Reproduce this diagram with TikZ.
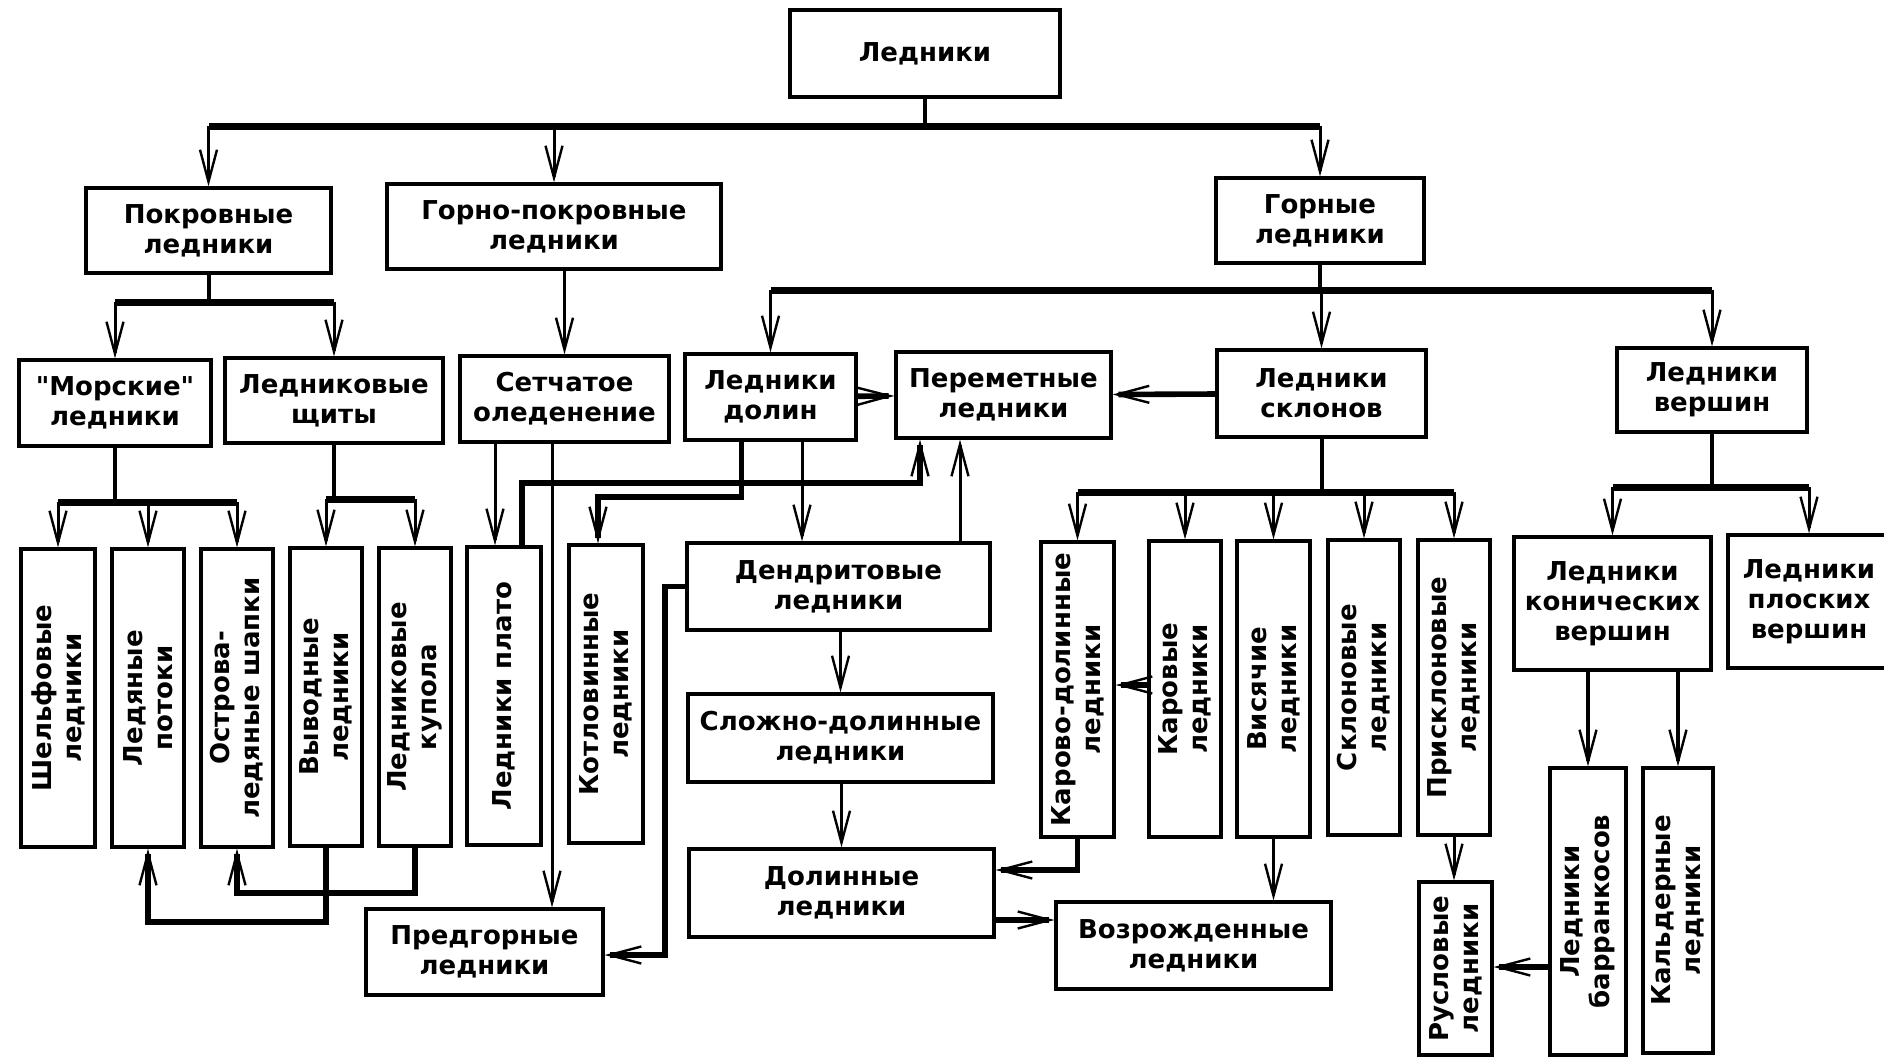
\documentclass[tikz,border=0pt]{standalone}
\usepackage{fontspec}
\setmainfont{DejaVu Sans}
\newfontfamily\quotefont{DejaVu Sans}
\newcommand{\sq}{{\quotefont"}}
\usetikzlibrary{arrows.meta}

\tikzset{
  box/.style={draw, line width=1.6pt, align=center, inner sep=2pt,
    font=\bfseries\fontsize{13}{15}\selectfont},
  sz/.style 2 args={minimum width=#1*0.5pt, minimum height=#2*0.5pt},
  vbox/.style 2 args={box, rotate=90, minimum width=#2*0.5pt, minimum height=#1*0.5pt},
  link/.style={line width=2pt},
  bus/.style={line width=3.5pt},
  arr/.style={line width=1.5pt, -{Straight Barb[length=16pt,width=8.5pt,line width=1.2pt]}},
  thickarr/.style={arr, line width=2.8pt},
}

\begin{document}
\begin{tikzpicture}[x=0.5pt,y=-0.5pt]
  \useasboundingbox (0,0) rectangle (1884,1057);

  % upper levels
  \node[box, sz={270}{87}] (led) at (925,53.5) {Ледники};
  \node[box, sz={245}{85}] (pokr) at (208.5,230.5) {Покровные\\ледники};
  \node[box, sz={334}{85}] (gpokr) at (554,226.5) {Горно-покровные\\ледники};
  \node[box, sz={208}{85}] (gorn) at (1320,220.5) {Горные\\ледники};
  \node[box, sz={192}{86}] (morsk) at (115,403) {\sq Морские\sq\\ледники};
  \node[box, sz={218}{85}] (shchit) at (334,400.5) {Ледниковые\\щиты};
  \node[box, sz={209}{86}] (setch) at (564.5,399) {Сетчатое\\оледенение};
  \node[box, sz={171}{86}] (dolin) at (770.5,397) {Ледники\\долин};
  \node[box, sz={215}{86}] (perem) at (1003.5,395) {Переметные\\ледники};
  \node[box, sz={209}{87}] (sklon) at (1321.5,393.5) {Ледники\\склонов};
  \node[box, sz={190}{84}] (versh) at (1712,390) {Ледники\\вершин};

  % lower levels
  \node[vbox={74}{298}] (shelf) at (58,698) {Шельфовые\\ледники};
  \node[vbox={72}{298}] (potok) at (148,698) {Ледяные\\потоки};
  \node[vbox={72}{298}] (ostrov) at (237,698) {Острова-\\ледяные шапки};
  \node[vbox={72}{298}] (vyvod) at (326,697) {Выводные\\ледники};
  \node[vbox={72}{298}] (kupol) at (415,697) {Ледниковые\\купола};
  \node[vbox={74}{298}] (plato) at (504,696) {Ледники плато};
  \node[vbox={74}{298}] (kotlov) at (606,694) {Котловинные\\ледники};
  \node[box, sz={303}{87}] (dendr) at (838.5,586.5) {Дендритовые\\ледники};
  \node[box, sz={305}{88}] (slozh) at (840.5,738) {Сложно-долинные\\ледники};
  \node[box, sz={305}{88}] (dolinn) at (841.5,893) {Долинные\\ледники};
  \node[box, sz={237}{86}] (predg) at (484.5,952) {Предгорные\\ледники};
  \node[box, sz={275}{87}] (vozr) at (1193.5,945.5) {Возрожденные\\ледники};
  \node[vbox={73}{295}] (karodol) at (1077.5,689.5) {Карово-долинные\\ледники};
  \node[vbox={72}{296}] (karov) at (1185,689) {Каровые\\ледники};
  \node[vbox={73}{296}] (visyach) at (1273.5,689) {Висячие\\ледники};
  \node[vbox={72}{295}] (sklonov) at (1364,687.5) {Склоновые\\ледники};
  \node[vbox={72}{295}] (prisk) at (1454,687.5) {Присклоновые\\ледники};
  \node[vbox={73}{173}] (rusl) at (1455.5,968.5) {Русловые\\ледники};
  \node[vbox={76}{287}] (barr) at (1588,911.5) {Ледники\\барранкосов};
  \node[vbox={70}{285}] (kald) at (1678,910.5) {Кальдерные\\ледники};
  \node[box, sz={197}{133}] (konich) at (1612.5,603.5) {Ледники\\конических\\вершин};
  \node[box, sz={162}{133}] (plosk) at (1809,601.5) {Ледники\\плоских\\вершин};

  % branch points
  \coordinate (b0) at (925,126);
  \coordinate (b1) at (213,302);
  \coordinate (b2) at (1327,290);
  \coordinate (b3) at (120,502);
  \coordinate (b4) at (339,499);
  \coordinate (b5) at (1320,492);
  \coordinate (b6) at (1713,487);

  \draw[link] (led.south) -- (b0);
  \draw[bus] (pokr |- b0) -- (gorn |- b0);
  \foreach \n in {pokr,gpokr,gorn} \draw[arr] (\n |- b0) -- (\n);

  \draw[link] (pokr.south) -- (pokr.south |- b1);
  \draw[bus] (morsk |- b1) -- (shchit |- b1);
  \foreach \n in {morsk,shchit} \draw[arr] (\n |- b1) -- (\n);

  \draw[arr] (gpokr.south -| setch) -- (setch);

  \draw[link] (gorn.south) -- (gorn.south |- b2);
  \draw[bus] (dolin |- b2) -- (versh |- b2);
  \foreach \n in {dolin,sklon,versh} \draw[arr] (\n |- b2) -- (\n);

  \draw[link] (morsk.south) -- (morsk.south |- b3);
  \draw[bus] (shelf |- b3) -- (ostrov |- b3);
  \foreach \n in {shelf,potok,ostrov} \draw[arr] (\n |- b3) -- (\n);

  \draw[link] (shchit.south) -- (shchit.south |- b4);
  \draw[bus] (vyvod |- b4) -- (kupol |- b4);
  \foreach \n in {vyvod,kupol} \draw[arr] (\n |- b4) -- (\n);

  \draw[link] (sklon.south) -- (sklon.south |- b5);
  \draw[bus] (karodol |- b5) -- (prisk |- b5);
  \foreach \n in {karodol,karov,visyach,sklonov,prisk} \draw[arr] (\n |- b5) -- (\n);

  \draw[link] (versh.south) -- (versh.south |- b6);
  \draw[bus] (konich |- b6) -- (plosk |- b6);
  \foreach \n in {konich,plosk} \draw[arr] (\n |- b6) -- (\n);

  % cross links
  \coordinate (s1) at (495,0);
  \coordinate (s2) at (552,0);
  \draw[arr] (setch.south -| s1) -- (plato.east -| s1);
  \draw[arr] (setch.south -| s2) -- (predg.north -| s2);

  \coordinate (p1) at (522,483);
  \coordinate (p2) at (920,483);
  \draw[thickarr] (plato.east -| p1) |- (p2) -- (perem.south -| p2);

  \coordinate (d1) at (741.5,497);
  \coordinate (d2) at (598,497);
  \draw[thickarr] (dolin.south -| d1) |- (d2) -- (kotlov.east -| d2);
  \coordinate (d3) at (802,0);
  \draw[arr] (dolin.south -| d3) -- (dendr.north -| d3);
  \draw[thickarr] (dolin) -- (perem);
  \draw[thickarr] (sklon) -- (perem);
  \coordinate (d4) at (960,0);
  \draw[arr] (dendr.north -| d4) -- (perem.south -| d4);
  \draw[arr] (dendr.south -| slozh) -- (slozh);
  \coordinate (d5) at (665,955);
  \draw[thickarr] (dendr.west) -| (d5) -- (predg.east |- d5);
  \draw[arr] (slozh.south -| dolinn) -- (dolinn);

  \coordinate (k1) at (1078,870);
  \draw[thickarr] (karodol.west) |- (dolinn.east |- k1);
  \coordinate (k2) at (0,920);
  \draw[thickarr] (dolinn.east |- k2) -- (vozr.west |- k2);
  \draw[arr] (visyach.west) -- (vozr.north -| visyach.west);
  \coordinate (k3) at (0,685);
  \draw[thickarr] (karov.north |- k3) -- (karodol.south |- k3);

  \draw[arr, line width=2.2pt] (konich.south -| barr) -- (barr.east);
  \draw[arr, line width=2.2pt] (konich.south -| kald) -- (kald.east);
  \draw[arr] (prisk.west) -- (rusl.east -| prisk.west);
  \coordinate (r1) at (0,967);
  \draw[thickarr] (barr.north |- r1) -- (rusl.south |- r1);

  \coordinate (v1) at (0,922);
  \draw[thickarr] (vyvod.west) |- (potok.west |- v1) -- (potok.west);
  \coordinate (v2) at (0,893);
  \draw[thickarr] (kupol.west) |- (ostrov.west |- v2) -- (ostrov.west);
\end{tikzpicture}
\end{document}
